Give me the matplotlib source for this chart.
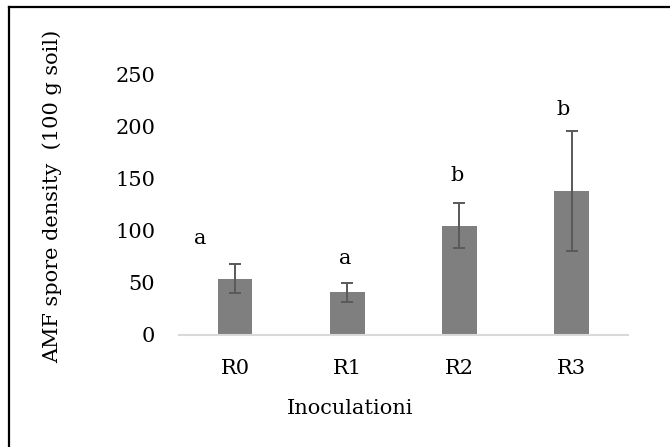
import matplotlib
matplotlib.use("Agg")
import matplotlib.pyplot as plt
from matplotlib.lines import Line2D

# values
groups = ["R0", "R1", "R2", "R3"]
density = [54, 41, 105, 138]
err_low = [14, 9, 21, 57]
err_high = [14, 9, 22, 58]
letters = ["a", "a", "b", "b"]
letter_x = [-0.31, 0.98, 1.98, 2.92]
letter_y = [93, 74, 153, 217]
yticks = [0, 50, 100, 150, 200, 250]

plt.rcParams["font.family"] = "DejaVu Serif"

fig = plt.figure(figsize=(6.7, 4.47), dpi=100)
ax = fig.add_axes([0.267, 0.2506, 0.670, 0.5817])

x = list(range(len(groups)))
ax.bar(x, density, width=0.31, color="#7f7f7f", zorder=2)
ax.errorbar(x, density, yerr=[err_low, err_high], fmt="none", ecolor="#595959",
            elinewidth=1.4, capsize=4.5, capthick=1.4, zorder=3)

for lx, ly, t in zip(letter_x, letter_y, letters):
    ax.text(lx, ly, t, ha="center", va="center", fontsize=15, color="black")

ax.set_xlim(-0.5, 3.5)
ax.set_ylim(0, 250)
ax.set_xticks(x)
ax.set_xticklabels(groups)
ax.set_yticks(yticks)
ax.tick_params(axis="both", length=0, labelsize=15, colors="black")
ax.tick_params(axis="y", pad=17)
ax.tick_params(axis="x", pad=17)

for s in ["top", "right", "left"]:
    ax.spines[s].set_visible(False)
ax.spines["bottom"].set_color("#d9d9d9")
ax.spines["bottom"].set_linewidth(1.5)

fig.text(52 / 670, 1 - 196 / 447, "AMF spore density  (100 g soil)", rotation=90,
         ha="center", va="center", fontsize=15)
fig.text(350 / 670, 1 - 408 / 447, "Inoculationi", ha="center", va="center", fontsize=15)

# frame drawn only on top and left edges
fig.add_artist(Line2D([9 / 670, 9 / 670], [0, 1 - 7 / 447], color="black", lw=1.6,
                      transform=fig.transFigure))
fig.add_artist(Line2D([9 / 670, 1], [1 - 7 / 447, 1 - 7 / 447], color="black", lw=1.6,
                      transform=fig.transFigure))

fig.savefig("out.png", dpi=100)
